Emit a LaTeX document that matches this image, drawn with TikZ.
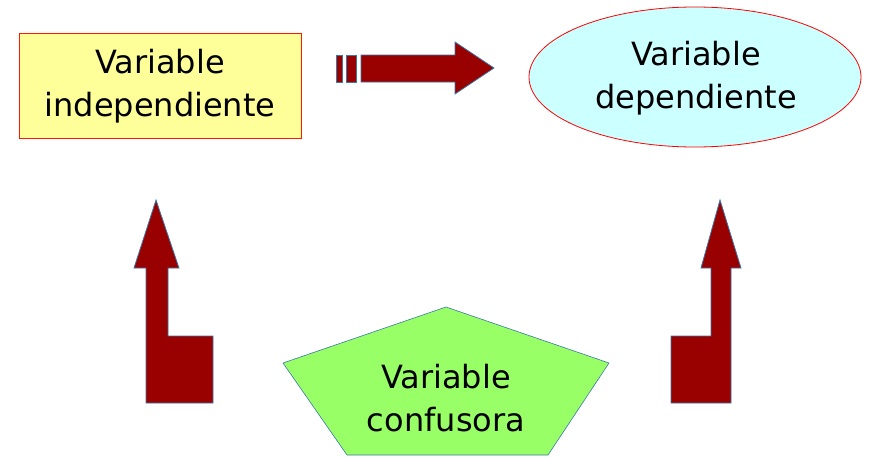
\documentclass[tikz,border=0pt]{standalone}
\usepackage{fontspec}
\setmainfont{DejaVu Sans}
\usetikzlibrary{shapes.geometric}
\definecolor{boxyellow}{HTML}{FFFF99}
\definecolor{boxcyan}{HTML}{CCFFFF}
\definecolor{boxgreen}{HTML}{99FF66}
\definecolor{arrowred}{HTML}{990000}
\definecolor{arrowedge}{HTML}{3A78A8}
\tikzset{
  lbl/.style={font=\fontsize{32}{43}\selectfont, align=center, text=black},
  bigarrow/.style={fill=arrowred, draw=arrowedge, line width=0.8pt, line join=miter},
}
\begin{document}
\begin{tikzpicture}[x=1pt,y=-1pt]
\useasboundingbox (0,0) rectangle (871,458);
% independent variable box
\draw[fill=boxyellow, draw=red!80!orange, line width=0.8pt] (19,33) rectangle (301,138);
\node[lbl] (indep) at (160,86) {Variable\\independiente};
% dependent variable ellipse
\draw[fill=boxcyan, draw=red, line width=0.8pt] (695,77) ellipse [x radius=166, y radius=70];
\node[lbl] (dep) at (696,78) {Variable\\dependiente};
% confounder pentagon
\draw[fill=boxgreen, draw=arrowedge, line width=0.6pt]
  (446,307) -- (609,363) -- (548,455) -- (347,455) -- (283,363) -- cycle;
\node[lbl] (conf) at (446,398) {Variable\\confusora};
% horizontal striped arrow
\path[bigarrow] (336,55) rectangle (342,82);
\path[bigarrow] (346,55) rectangle (356,82);
\path[bigarrow] (361,55) -- (455,55) -- (455,42) -- (494,68) -- (455,94) -- (455,82) -- (361,82) -- cycle;
% left bent arrow
\path[bigarrow] (156,200) -- (179,268) -- (168,268) -- (168,336) -- (213,336) -- (213,403)
  -- (146,403) -- (146,268) -- (134,268) -- cycle;
% right bent arrow
\path[bigarrow] (720,200) -- (741,268) -- (731,268) -- (731,403) -- (671,403) -- (671,336)
  -- (711,336) -- (711,268) -- (701,268) -- cycle;
\end{tikzpicture}
\end{document}
